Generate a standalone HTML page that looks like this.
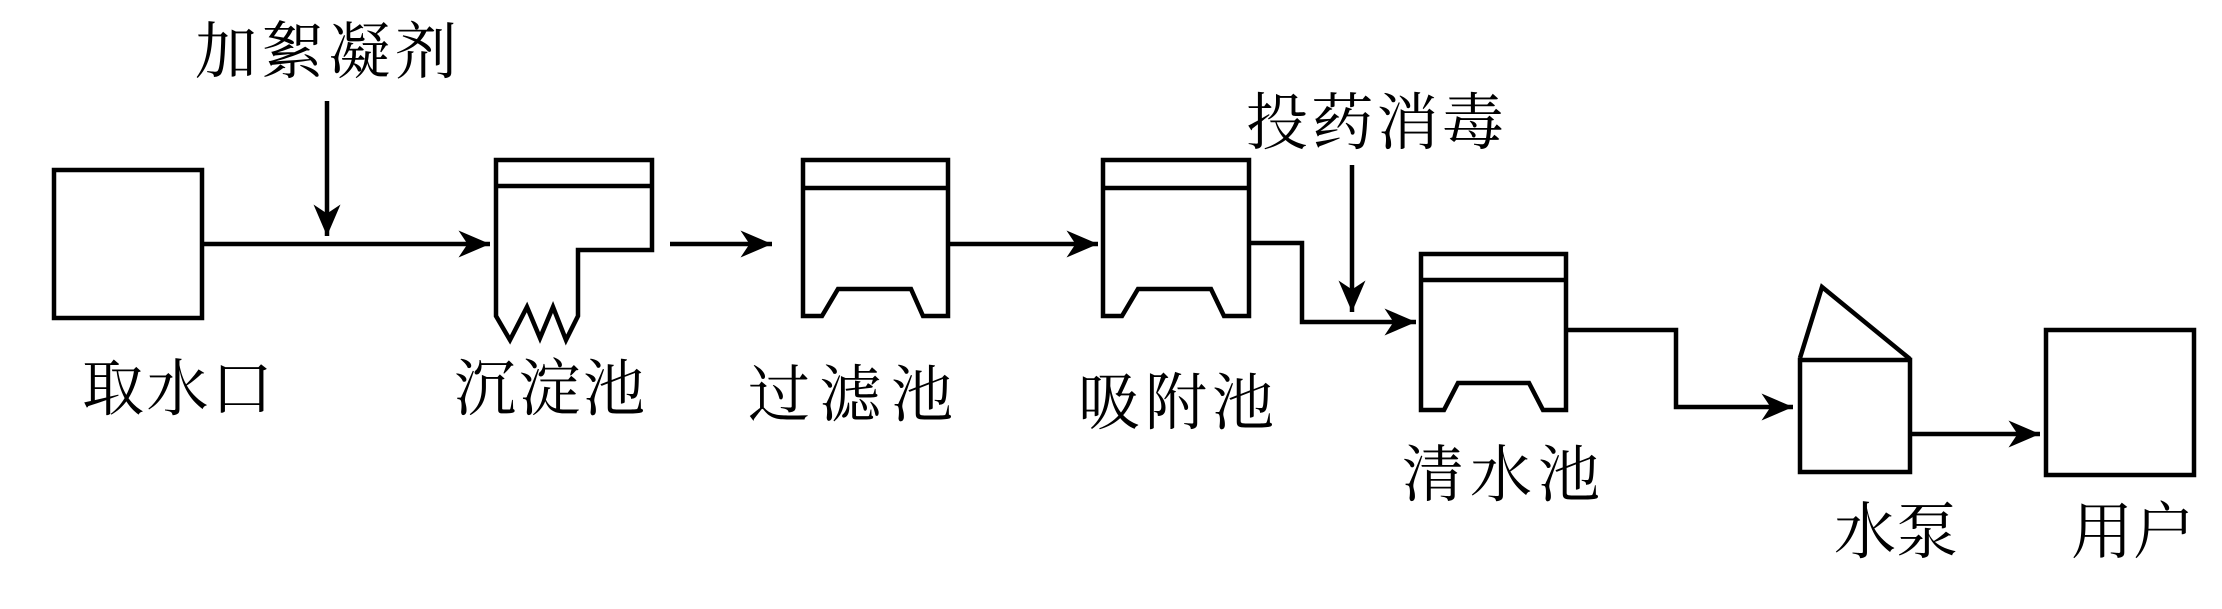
<!DOCTYPE html>
<html><head><meta charset="utf-8"><style>
html,body{margin:0;padding:0;background:#fff;}
svg{display:block;}
text{font-family:"Liberation Serif","Noto Serif CJK SC",serif;font-size:62px;fill:#000;}
</style></head><body>
<svg width="2222" height="609" viewBox="0 0 2222 609" xmlns="http://www.w3.org/2000/svg">
<defs>
<marker id="a" markerWidth="8" markerHeight="8" refX="7" refY="4" orient="auto" markerUnits="strokeWidth">
<path d="M0,1 L7,4 L0,7 L2,4 Z" fill="#000"/>
</marker>
</defs>
<g fill="none" stroke="#000" stroke-width="4.5">
<!-- intake -->
<rect x="54" y="170" width="148" height="148"/>
<line x1="202" y1="244" x2="490" y2="244" marker-end="url(#a)"/>
<line x1="327" y1="101" x2="327" y2="236" marker-end="url(#a)"/>
<!-- sedimentation -->
<path d="M496,160 H652 V250 H578 V316 L566,340 L553,307 L540,338 L527,307 L510,340 L496,316 Z"/>
<line x1="496" y1="186" x2="652" y2="186"/>
<line x1="670" y1="244" x2="772" y2="244" marker-end="url(#a)"/>
<!-- filter -->
<path d="M803,160 H948 V316 H923 L911,289 H838 L822,316 H803 Z"/>
<line x1="803" y1="188" x2="948" y2="188"/>
<line x1="948" y1="244" x2="1098" y2="244" marker-end="url(#a)"/>
<!-- adsorption -->
<path d="M1103,160 H1249 V316 H1224 L1211,289 H1138 L1122,316 H1103 Z"/>
<line x1="1103" y1="188" x2="1249" y2="188"/>
<polyline points="1249,243 1302,243 1302,322 1416,322" marker-end="url(#a)"/>
<line x1="1352" y1="165" x2="1352" y2="312" marker-end="url(#a)"/>
<!-- clean water -->
<path d="M1421,254 H1566 V410 H1543 L1529,383 H1458 L1444,410 H1421 Z"/>
<line x1="1421" y1="280" x2="1566" y2="280"/>
<polyline points="1566,330 1676,330 1676,407 1793,407" marker-end="url(#a)"/>
<!-- pump -->
<rect x="1800" y="360" width="110" height="112"/>
<path d="M1800,358 L1822,287 L1910,359"/>
<line x1="1910" y1="434" x2="2040" y2="434" marker-end="url(#a)"/>
<!-- user -->
<rect x="2046" y="330" width="148" height="145"/>
</g>
<text x="195" y="73" textLength="262">加絮凝剂</text>
<text x="1246" y="144" textLength="258">投药消毒</text>
<text x="82" y="410" textLength="191">取水口</text>
<text x="454" y="410" textLength="191">沉淀池</text>
<text x="748" y="416" textLength="205">过滤池</text>
<text x="1078" y="424" textLength="196">吸附池</text>
<text x="1402" y="496" textLength="198">清水池</text>
<text x="1834" y="553" textLength="124">水泵</text>
<text x="2071" y="553" textLength="124">用户</text>
</svg>
</body></html>
